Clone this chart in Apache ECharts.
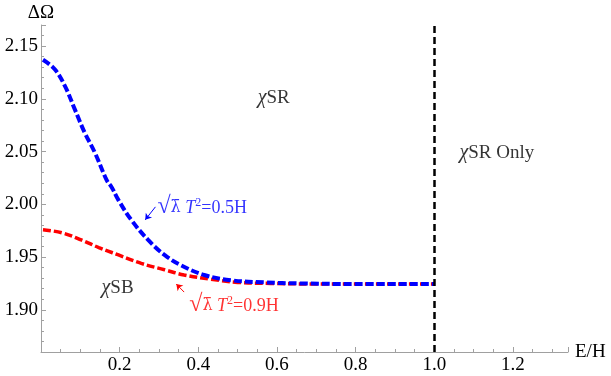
<!DOCTYPE html>
<html>
<head>
<meta charset="utf-8">
<script src="https://cdn.jsdelivr.net/npm/echarts@6/dist/echarts.min.js"></script>
<style>
  html, body { margin: 0; padding: 0; background: #fff; }
  #chart { width: 611px; height: 376px; }
</style>
</head>
<body>
<div id="chart"></div>
<script>
// curve for sqrt(lambda) T^2 = 0.5H (blue)
const xBlue = [0.005, 0.035, 0.061, 0.086, 0.111, 0.137, 0.167, 0.18, 0.197, 0.23, 0.273, 0.314, 0.357, 0.415, 0.483, 0.567, 0.66, 0.8, 1.0];
const yBlue = [2.137, 2.128, 2.112, 2.090, 2.068, 2.049, 2.023, 2.016, 2.004, 1.985, 1.966, 1.952, 1.942, 1.933, 1.928, 1.926, 1.925, 1.9245, 1.9245];
// curve for sqrt(lambda) T^2 = 0.9H (red)
const xRed = [0.005, 0.053, 0.104, 0.147, 0.197, 0.255, 0.314, 0.364, 0.432, 0.5, 0.584, 0.7, 1.0];
const yRed = [1.976, 1.973, 1.966, 1.959, 1.952, 1.944, 1.938, 1.933, 1.929, 1.926, 1.925, 1.9245, 1.9245];
// phase boundary
const boundaryX = 1.0;
// region labels
const regionLabels = [
  { name: '{c|χ}SR', at: [0.551, 2.101] },
  { name: '{c|χ}SR Only', at: [1.064, 2.049] },
  { name: '{c|χ}SB', at: [0.154, 1.921] }
];
// curve annotations: text position, arrow from -> to
const notes = [
  { text: '{r|√}{l|λ̄} {i|T}{s|2}=0.5H', at: [0.296, 1.9967], from: [0.291, 1.9976], to: [0.265, 1.9853], color: '#0000ff' },
  { text: '{r|√}{l|λ̄} {i|T}{s|2}=0.9H', at: [0.377, 1.9035], from: [0.364, 1.9168], to: [0.344, 1.9244], color: '#ff0000' }
];

const serif = 'Liberation Serif';
const axisGray = '#a0a0a0';

function zip(xs, ys) {
  return xs.map((x, i) => [x, ys[i]]);
}

function noteRich(color) {
  return {
    r: { fontFamily: serif, fontSize: 24, color: color, padding: [0, 0, 2, 0] },
    l: { fontFamily: 'DejaVu Serif', fontSize: 16, color: color },
    i: { fontFamily: serif, fontStyle: 'italic', fontSize: 18, color: color },
    s: { fontFamily: serif, fontSize: 12, color: color, padding: [0, 0, 10, 0] }
  };
}

const chart = echarts.init(document.getElementById('chart'));

const series = [
  {
    type: 'line',
    data: zip(xRed, yRed),
    smooth: 0.4,
    showSymbol: false,
    lineStyle: { color: '#ff0000', width: 3.5, type: [8, 3] },
    z: 2
  },
  {
    type: 'line',
    data: zip(xBlue, yBlue),
    smooth: 0.4,
    showSymbol: false,
    lineStyle: { color: '#0000ff', width: 4, type: [8, 3] },
    z: 3,
    markLine: {
      silent: true,
      symbol: 'none',
      label: { show: false },
      lineStyle: { color: '#000', width: 2.5, type: [7, 4] },
      data: [{ xAxis: boundaryX }]
    }
  },
  {
    type: 'scatter',
    symbolSize: 0,
    data: regionLabels.map(r => ({ value: r.at, name: r.name })),
    label: {
      show: true,
      position: 'right',
      distance: 0,
      formatter: p => p.name,
      fontFamily: serif,
      fontSize: 19,
      color: '#000',
      rich: { c: { fontFamily: serif, fontStyle: 'italic', fontSize: 20, color: '#000' } }
    },
    z: 5
  }
];

notes.forEach(n => {
  series.push({
    type: 'scatter',
    symbolSize: 0,
    data: [{ value: n.at, name: n.text }],
    label: {
      show: true,
      position: 'right',
      distance: 0,
      formatter: p => p.name,
      fontFamily: serif,
      fontSize: 18,
      color: n.color,
      rich: noteRich(n.color)
    },
    markLine: {
      silent: true,
      symbol: ['none', 'arrow'],
      symbolSize: 6,
      label: { show: false },
      lineStyle: { color: n.color, width: 1, type: 'solid' },
      data: [[{ coord: n.from }, { coord: n.to }]]
    },
    z: 5
  });
});

chart.setOption({
  animation: false,
  grid: { left: 41, right: 43, top: 25, bottom: 24 },
  // y axis title, centred over the axis line
  graphic: [{
    type: 'text',
    x: 41,
    y: 13,
    z: 10,
    style: { text: 'ΔΩ', font: '19px "Liberation Serif"', fill: '#000', align: 'center', verticalAlign: 'middle' }
  }],
  xAxis: {
    type: 'value',
    min: 0,
    max: 1.34,
    interval: 0.2,
    name: 'E/H',
    nameLocation: 'end',
    nameGap: 7,
    nameTextStyle: { fontFamily: serif, fontSize: 19, color: '#000', verticalAlign: 'middle' },
    axisLine: { lineStyle: { color: axisGray, width: 1 } },
    axisTick: { show: true, inside: true, length: 5, lineStyle: { color: axisGray } },
    minorTick: { show: true, splitNumber: 4, length: 3, lineStyle: { color: axisGray } },
    axisLabel: {
      fontFamily: serif, fontSize: 19, color: '#000', margin: 4,
      showMinLabel: false, showMaxLabel: false,
      formatter: v => v.toFixed(1)
    },
    splitLine: { show: false }
  },
  yAxis: {
    type: 'value',
    min: 1.86,
    max: 2.17,
    splitNumber: 6,
    axisLine: { show: true, lineStyle: { color: axisGray, width: 1 } },
    axisTick: { show: true, inside: true, length: 5, lineStyle: { color: axisGray } },
    minorTick: { show: true, splitNumber: 5, length: 3, lineStyle: { color: axisGray } },
    axisLabel: {
      fontFamily: serif, fontSize: 19, color: '#000', margin: 3,
      showMinLabel: false, showMaxLabel: false,
      formatter: v => v.toFixed(2)
    },
    splitLine: { show: false }
  },
  series: series
});
</script>
</body>
</html>
